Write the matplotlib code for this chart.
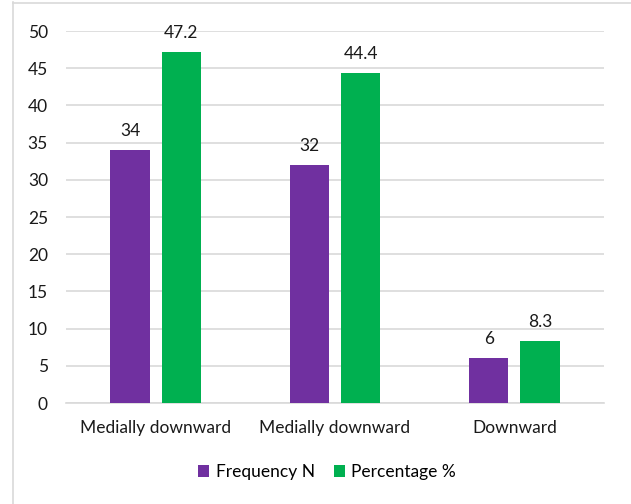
import matplotlib
matplotlib.use("Agg")
import matplotlib.pyplot as plt
from matplotlib.lines import Line2D
import numpy as np

categories = ["Medially downward", "Medially downward", "Downward"]
frequency_n = [34, 32, 6]
percentage = [47.2, 44.4, 8.3]
series_names = ["Frequency N", "Percentage %"]
y_ticks = [0, 5, 10, 15, 20, 25, 30, 35, 40, 45, 50]

purple = "#7030A0"
green = "#00B050"
grid_col = "#D9D9D9"
text_col = "#1a1a1a"
fs = 12.5

plt.rcParams["font.family"] = ["Lato", "DejaVu Sans"]

W, H = 631, 504
fig = plt.figure(figsize=(W / 100, H / 100), dpi=100)

# chart area border (left and top edges)
fig.add_artist(Line2D([12.5 / W, 12.5 / W], [0, 1 - 2 / H], color="#D9D9D9", lw=1.2))
fig.add_artist(Line2D([12.5 / W, 1], [1 - 2.5 / H, 1 - 2.5 / H], color="#D9D9D9", lw=1.2))

left, right = 66 / W, 604 / W
bottom, top = 1 - 403 / H, 1 - 31 / H
ax = fig.add_axes([left, bottom, right - left, top - bottom])

x = np.arange(len(categories))
width = 0.22
off = 0.143
b1 = ax.bar(x - off, frequency_n, width, color=purple, label=series_names[0], zorder=3)
b2 = ax.bar(x + off, percentage, width, color=green, label=series_names[1], zorder=3)

for bars, vals in ((b1, frequency_n), (b2, percentage)):
    for rect, v in zip(bars, vals):
        ax.annotate(f"{v:g}", (rect.get_x() + rect.get_width() / 2, v),
                    xytext=(0, 8), textcoords="offset points",
                    ha="center", va="bottom", fontsize=fs, color=text_col)

ax.set_xlim(-0.5, 2.5)
ax.set_ylim(0, 50)
ax.set_yticks(y_ticks)
ax.set_xticks(x)
ax.set_xticklabels(categories)
ax.yaxis.grid(True, color=grid_col, lw=1.2, zorder=0)
ax.set_axisbelow(True)
for s in ["top", "right", "left"]:
    ax.spines[s].set_visible(False)
ax.spines["bottom"].set_color(grid_col)
ax.spines["bottom"].set_linewidth(1.2)
ax.tick_params(axis="both", length=0, labelsize=fs, labelcolor=text_col)
ax.tick_params(axis="y", pad=13)
ax.tick_params(axis="x", pad=12)

fig.legend(handles=[b1, b2], labels=series_names, loc="center",
           bbox_to_anchor=(327 / W, 1 - 472 / H), ncol=2, frameon=False,
           fontsize=fs, handlelength=0.65, handleheight=0.65,
           handletextpad=0.35, columnspacing=1.1)

fig.savefig("out.png", dpi=100)
